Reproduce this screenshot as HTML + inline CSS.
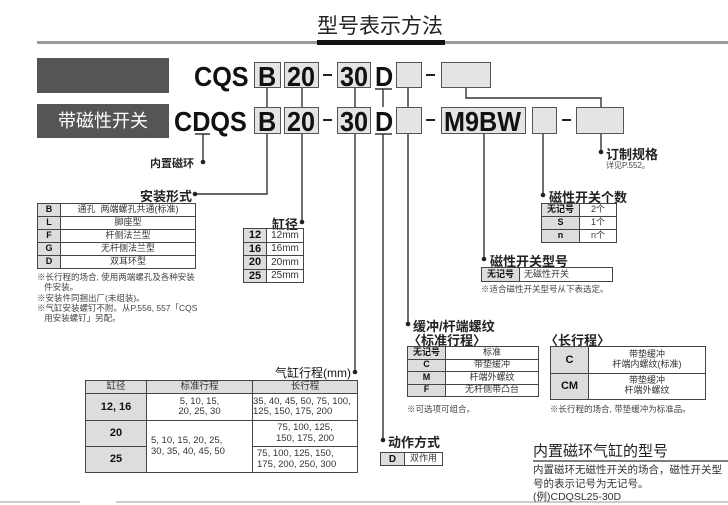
<!DOCTYPE html>
<html><head><meta charset="utf-8"><style>
body{margin:0;width:728px;height:503px;background:#fff;position:relative;overflow:hidden;font-family:"Liberation Sans","Noto Sans CJK SC",sans-serif;color:#222}
.a{position:absolute;white-space:nowrap}
.big{position:absolute;font:bold 28px/28px "Liberation Sans",sans-serif;transform:scaleX(.9);transform-origin:left top;color:#111;white-space:nowrap}
.bx{position:absolute;background:#e4e4e4;border:1px solid #555;box-sizing:border-box}
.ds{position:absolute;height:2px;background:#222;width:9px}
table{position:absolute;border-collapse:collapse;font-size:9px;color:#333}
td{border:1px solid #444;padding:0;text-align:center;line-height:1.1}
td.k{background:#ddd;font-weight:bold;color:#111}
.lbl{font-size:13px;font-weight:bold;color:#222}
.note{font-size:8.5px;color:#444;line-height:10.3px}
</style></head><body>
<div class="a" style="left:317px;top:14px;font-size:21px;line-height:26px;color:#222">型号表示方法</div>
<div class="a" style="left:37px;top:41px;width:691px;height:3px;background:#9a9a9a"></div>
<div class="a" style="left:317px;top:40px;width:128px;height:5px;background:#111"></div>
<div class="a" style="left:37px;top:58px;width:132px;height:35px;background:#555"></div>
<div class="a" style="left:37px;top:104px;width:132px;height:34px;background:#555;color:#fff;font-size:18px;line-height:34px;text-align:center">带磁性开关</div>

<!-- row1 -->
<div class="bx" style="left:254px;top:62px;width:27px;height:26px"></div>
<div class="bx" style="left:284px;top:62px;width:35px;height:26px"></div>
<div class="bx" style="left:337px;top:62px;width:34px;height:26px"></div>
<div class="bx" style="left:396px;top:62px;width:26px;height:26px"></div>
<div class="bx" style="left:441px;top:62px;width:50px;height:26px"></div>
<div class="big" style="left:194px;top:63px">CQS</div>
<div class="big" style="left:258px;top:63px">B</div>
<div class="big" style="left:287px;top:63px">20</div>
<div class="ds" style="left:323px;top:74px"></div>
<div class="big" style="left:340px;top:63px">30</div>
<div class="big" style="left:375px;top:63px">D</div>
<div class="ds" style="left:426px;top:74px"></div>
<!-- row2 -->
<div class="bx" style="left:254px;top:107px;width:27px;height:27px"></div>
<div class="bx" style="left:284px;top:107px;width:35px;height:27px"></div>
<div class="bx" style="left:337px;top:107px;width:34px;height:27px"></div>
<div class="bx" style="left:396px;top:107px;width:26px;height:27px"></div>
<div class="bx" style="left:441px;top:107px;width:85px;height:27px"></div>
<div class="bx" style="left:532px;top:107px;width:25px;height:27px"></div>
<div class="bx" style="left:576px;top:107px;width:48px;height:27px"></div>
<div class="big" style="left:174px;top:108px">CDQS</div>
<div class="big" style="left:258px;top:108px">B</div>
<div class="big" style="left:287px;top:108px">20</div>
<div class="ds" style="left:323px;top:119px"></div>
<div class="big" style="left:340px;top:108px">30</div>
<div class="big" style="left:375px;top:108px">D</div>
<div class="ds" style="left:426px;top:119px"></div>
<div class="big" style="left:444px;top:108px">M9BW</div>
<div class="ds" style="left:562px;top:119px"></div>

<svg class="a" style="left:0;top:0" width="728" height="503">
<g stroke="#333" stroke-width="1.4" fill="none">
<path d="M375 89H392M375 134H392M195 134H210"/>
<path d="M466 88V98H601V107"/>
<path d="M267 88V107M302 88V107M355 88V107M383 89V107M408 88V107"/>
<path d="M203 134V162"/>
<path d="M267 134V194H195"/>
<path d="M302 134V222"/>
<path d="M355 134V372"/>
<path d="M383 134V440"/>
<path d="M408 134V324"/>
<path d="M484 134V259"/>
<path d="M543 134V195"/>
<path d="M601 134V152"/>
</g>
<g fill="#222">
<circle cx="203" cy="162" r="2.3"/><circle cx="195" cy="194" r="2.3"/><circle cx="302" cy="222" r="2.3"/>
<circle cx="355" cy="372" r="2.3"/><circle cx="383" cy="440" r="2.3"/><circle cx="408" cy="324" r="2.3"/>
<circle cx="484" cy="259" r="2.3"/><circle cx="543" cy="195" r="2.3"/><circle cx="601" cy="152" r="2.3"/>
</g>
<path d="M533 461H728" stroke="#555" stroke-width="1.5"/>
<path d="M0 502H80M116 502H728" stroke="#bbb" stroke-width="1.5"/>
</svg>

<div class="a" style="left:150px;top:155px;font-size:11px;font-weight:bold">内置磁环</div>
<div class="a" style="left:606px;top:144px;font-size:13px;font-weight:bold">订制规格</div>
<div class="a" style="left:606px;top:160px;font-size:8px;color:#444">详见P.552。</div>

<div class="a lbl" style="left:140px;top:186px">安装形式</div>
<table style="left:37px;top:203px;width:159px">
<tr style="height:13px"><td class="k" style="width:22px">B</td><td>通孔&nbsp; 两端螺孔共通(标准)</td></tr>
<tr style="height:13px"><td class="k">L</td><td>脚座型</td></tr>
<tr style="height:13px"><td class="k">F</td><td>杆侧法兰型</td></tr>
<tr style="height:13px"><td class="k">G</td><td>无杆侧法兰型</td></tr>
<tr style="height:13px"><td class="k">D</td><td>双耳环型</td></tr>
</table>
<div class="a note" style="left:37px;top:272px">※长行程的场合, 使用两端螺孔及各种安装<br>&nbsp;&nbsp; 件安装。<br>※安装件同捆出厂(未组装)。<br>※气缸安装螺钉不附。从P.556, 557「CQS<br>&nbsp;&nbsp; 用安装螺钉」另配。</div>

<div class="a lbl" style="left:272px;top:214px">缸径</div>
<table style="left:243px;top:228px;width:61px;font-size:10px">
<tr style="height:13.5px"><td class="k" style="width:22px;font-size:11px">12</td><td>12mm</td></tr>
<tr style="height:13.5px"><td class="k" style="font-size:11px">16</td><td>16mm</td></tr>
<tr style="height:13.5px"><td class="k" style="font-size:11px">20</td><td>20mm</td></tr>
<tr style="height:13.5px"><td class="k" style="font-size:11px">25</td><td>25mm</td></tr>
</table>

<div class="a lbl" style="left:549px;top:187px">磁性开关个数</div>
<table style="left:541px;top:203px;width:76px">
<tr style="height:13px"><td class="k" style="width:37px">无记号</td><td>2个</td></tr>
<tr style="height:13px"><td class="k">S</td><td>1个</td></tr>
<tr style="height:13px"><td class="k">n</td><td>n个</td></tr>
</table>

<div class="a lbl" style="left:490px;top:251px">磁性开关型号</div>
<table style="left:481px;top:267px;width:132px">
<tr style="height:14px"><td class="k" style="width:37px">无记号</td><td style="text-align:left;padding-left:4px">无磁性开关</td></tr>
</table>
<div class="a note" style="left:481px;top:284px">※适合磁性开关型号从下表选定。</div>

<div class="a lbl" style="left:413px;top:316px">缓冲/杆端螺纹</div>
<div class="a lbl" style="left:408px;top:330px">〈标准行程〉</div>
<div class="a lbl" style="left:545px;top:330px">〈长行程〉</div>
<table style="left:407px;top:346px;width:132px">
<tr style="height:12.5px"><td class="k" style="width:37px">无记号</td><td>标准</td></tr>
<tr style="height:12.5px"><td class="k">C</td><td>带垫缓冲</td></tr>
<tr style="height:12.5px"><td class="k">M</td><td>杆端外螺纹</td></tr>
<tr style="height:12.5px"><td class="k">F</td><td>无杆侧带凸台</td></tr>
</table>
<table style="left:550px;top:346px;width:156px">
<tr style="height:26.5px"><td class="k" style="width:37px;font-size:11px">C</td><td>带垫缓冲<br>杆端内螺纹(标准)</td></tr>
<tr style="height:26.5px"><td class="k" style="font-size:11px">CM</td><td>带垫缓冲<br>杆端外螺纹</td></tr>
</table>
<div class="a note" style="left:407px;top:404px">※可选项可组合。</div>
<div class="a note" style="left:550px;top:404px">※长行程的场合, 带垫缓冲为标准品。</div>

<div class="a lbl" style="left:388px;top:432px">动作方式</div>
<table style="left:380px;top:452px;width:63px">
<tr style="height:13px"><td class="k" style="width:23px;font-size:10px">D</td><td>双作用</td></tr>
</table>

<div class="a" style="left:275px;top:364px;font-size:12px;color:#111">气缸行程(mm)</div>
<table style="left:85px;top:380px;width:273px;font-size:9.5px">
<tr style="height:13px"><td style="background:#ddd;width:60px">缸径</td><td style="background:#ddd;width:105px">标准行程</td><td style="background:#ddd">长行程</td></tr>
<tr style="height:27px"><td class="k" style="font-size:11px">12, 16</td><td>5, 10, 15,<br>20, 25, 30</td><td style="text-align:left">35, 40, 45, 50, 75, 100,<br>125, 150, 175, 200</td></tr>
<tr style="height:26px"><td class="k" style="font-size:11px">20</td><td rowspan="2" style="text-align:left;padding-left:4px">5, 10, 15, 20, 25,<br>30, 35, 40, 45, 50</td><td>75, 100, 125,<br>150, 175, 200</td></tr>
<tr style="height:26px"><td class="k" style="font-size:11px">25</td><td style="text-align:left;padding-left:4px">75, 100, 125, 150,<br>175, 200, 250, 300</td></tr>
</table>

<div class="a" style="left:533px;top:440px;font-size:15px;color:#222">内置磁环气缸的型号</div>
<div class="a" style="left:533px;top:464px;font-size:10.5px;line-height:13.5px;color:#333">内置磁环无磁性开关的场合，磁性开关型<br>号的表示记号为无记号。<br>(例)CDQSL25-30D</div>
</body></html>
